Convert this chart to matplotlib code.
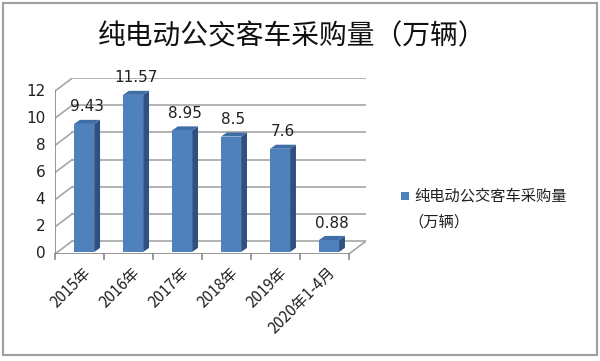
import matplotlib.pyplot as plt
from matplotlib.patches import Polygon, Rectangle

plt.rcParams['font.family'] = ['Noto Sans CJK SC', 'DejaVu Sans']

categories = ["2015年", "2016年", "2017年", "2018年", "2019年", "2020年1-4月"]
values = [9.43, 11.57, 8.95, 8.5, 7.6, 0.88]
yticks = [0, 2, 4, 6, 8, 10, 12]
title = "纯电动公交客车采购量（万辆）"

# oblique offset of the back wall (category units, value units)
WX, WY = 0.35, 0.95
# bar placement
BX0, BW, BZ = 0.39, 0.41, 0.15
SX, SY = 0.12, 0.30

front = "#4F81BD"
side = "#2F5080"
top = "#3F6DA6"
grid = "#A6A6A6"
axis_c = "#868686"

fig = plt.figure(figsize=(6, 3.61), dpi=100)
ax = fig.add_axes([55 / 600, 1 - 254 / 361, (366 - 55) / 600, (254 - 77.5) / 361])
ax.set_xlim(0, len(categories) + WX)
ax.set_ylim(0, 13)
ax.axis("off")
n = len(categories)

# back wall gridlines and left side wall
for v in yticks:
    ax.plot([WX, n + WX], [v + WY, v + WY], color=grid, lw=1.2, zorder=1)
    ax.plot([0, WX], [v, v + WY], color=grid, lw=1.2, zorder=1)
    ax.plot([-0.1, 0], [v, v], color=axis_c, lw=1.2, zorder=2)
    ax.text(-0.2, v, str(v), ha="right", va="center", fontsize=11,
            color="#202020", family="DejaVu Sans", clip_on=False)
# floor
ax.plot([0, n], [0, 0], color=axis_c, lw=1.2, zorder=2)
ax.plot([n, n + WX], [0, WY], color=grid, lw=1.2, zorder=1)
ax.plot([0, 0], [0, 12], color=axis_c, lw=1.2, zorder=2)
for i in range(n + 1):
    ax.plot([i, i], [0, -0.35], color=axis_c, lw=1.2, zorder=2, clip_on=False)

# bars
for i, v in enumerate(values):
    x0 = i + BX0
    x1 = x0 + BW
    y0 = BZ
    y1 = BZ + v
    ax.add_patch(Polygon([(x1, y0), (x1 + SX, y0 + SY), (x1 + SX, y1 + SY), (x1, y1)],
                         closed=True, facecolor=side, edgecolor="none", zorder=3))
    ax.add_patch(Polygon([(x0, y1), (x1, y1), (x1 + SX, y1 + SY), (x0 + SX, y1 + SY)],
                         closed=True, facecolor=top, edgecolor="none", zorder=3))
    ax.add_patch(Rectangle((x0, y0), BW, v, facecolor=front, edgecolor="none", zorder=4))
    ax.text(x0 + BW / 2 + 0.05, y1 + 1.25, f"{v:g}", ha="center", va="center",
            fontsize=11, color="#202020", family="DejaVu Sans", zorder=5)

# category labels
for i, c in enumerate(categories):
    ax.text(i + 0.55, -0.75, c, rotation=45, ha="right", va="top",
            rotation_mode="anchor", fontsize=11, color="#202020", clip_on=False)

fig.text(292 / 600, 1 - 36 / 361, title, ha="center", va="center", fontsize=20, color="#101010")

# legend
fig.patches.append(Rectangle((401 / 600, 1 - 200 / 361), 8 / 600, 8 / 361,
                             transform=fig.transFigure, facecolor=front, edgecolor="none"))
fig.text(414 / 600, 1 - 196 / 361, "纯电动公交客车采购量", ha="left", va="center",
         fontsize=11, color="#202020")
fig.text(408 / 600, 1 - 222 / 361, "（万辆）", ha="left", va="center",
         fontsize=11, color="#202020")

# chart border
fig.patches.append(Rectangle((3 / 600, 1 - 355 / 361), 594 / 600, 352 / 361,
                             transform=fig.transFigure, facecolor="none",
                             edgecolor="#A0A0A0", lw=1.5))

fig.savefig("out.png", dpi=100)
